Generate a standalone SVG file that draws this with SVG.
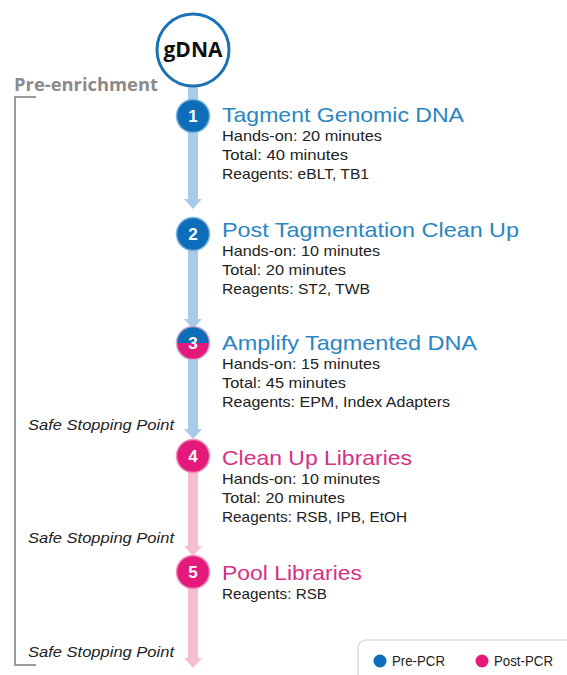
<svg xmlns="http://www.w3.org/2000/svg" width="567" height="675" viewBox="0 0 567 675">
<defs>
<marker id="ahB" viewBox="0 0 10 18" refX="0" refY="9" markerWidth="10" markerHeight="18" markerUnits="userSpaceOnUse" orient="auto"><path d="M0,0 L10,9 L0,18 z" fill="#a9cbea"/></marker>
<marker id="ahP" viewBox="0 0 10 18" refX="0" refY="9" markerWidth="10" markerHeight="18" markerUnits="userSpaceOnUse" orient="auto"><path d="M0,0 L10,9 L0,18 z" fill="#f5bcd2"/></marker>
</defs>
<style>
.shB{stroke:#a9cbea;stroke-width:10;fill:none}
.shP{stroke:#f5bcd2;stroke-width:10;fill:none}
.numB{fill:#0d6db8;stroke:#7fb3de;stroke-width:1.5}
.numP{fill:#e5197a;stroke:#f08fba;stroke-width:1.5}
.num{font-family:"Liberation Sans",Arial,sans-serif;font-weight:bold;font-size:17px;fill:#ffffff;text-anchor:middle}
.tB{font-family:"Liberation Sans",Arial,sans-serif;font-size:21px;fill:#2a86c2}
.tP{font-family:"Liberation Sans",Arial,sans-serif;font-size:21px;fill:#d62f86}
.sub{font-family:"Liberation Sans",Arial,sans-serif;font-size:15px;fill:#222222}
.safe{font-family:"Liberation Sans",Arial,sans-serif;font-style:italic;font-size:15px;fill:#222222}
.lg{font-family:"Liberation Sans",Arial,sans-serif;font-size:14.5px;fill:#222222}
</style>
<rect width="567" height="675" fill="#ffffff"/>
<g id="bracket">
<text x="14" y="91" font-family="Open Sans,Liberation Sans,sans-serif" font-weight="bold" font-size="17" fill="#8a8a8a" textLength="144" lengthAdjust="spacingAndGlyphs">Pre-enrichment</text>
<path d="M36,97 H15 V665 H36" fill="none" stroke="#9a9a9a" stroke-width="2"/>
</g>
<g id="connectors">
<line class="shB" x1="193" y1="86" x2="193" y2="100"/>
<line class="shB" x1="193" y1="132" x2="193" y2="199" marker-end="url(#ahB)"/>
<line class="shB" x1="193" y1="250" x2="193" y2="319" marker-end="url(#ahB)"/>
<line class="shB" x1="193" y1="359" x2="193" y2="429" marker-end="url(#ahB)"/>
<line class="shP" x1="193" y1="472" x2="193" y2="546" marker-end="url(#ahP)"/>
<line class="shP" x1="193" y1="588" x2="193" y2="658" marker-end="url(#ahP)"/>
</g>
<g id="gdna">
<circle cx="193" cy="50" r="36" fill="#ffffff" stroke="#1a72b6" stroke-width="3"/>
<text x="193" y="57" text-anchor="middle" font-family="Open Sans,Liberation Sans,sans-serif" font-weight="bold" font-size="21" fill="#111111">gDNA</text>
</g>
<g id="step1">
<circle class="numB" cx="193" cy="116" r="16.5"/>
<text class="num" x="193" y="122">1</text>
<text class="tB" x="222" y="122" textLength="242" lengthAdjust="spacingAndGlyphs">Tagment Genomic DNA</text>
<text class="sub" x="222" y="141" textLength="160" lengthAdjust="spacingAndGlyphs">Hands-on: 20 minutes</text>
<text class="sub" x="222" y="160" textLength="126" lengthAdjust="spacingAndGlyphs">Total: 40 minutes</text>
<text class="sub" x="222" y="179" textLength="147" lengthAdjust="spacingAndGlyphs">Reagents: eBLT, TB1</text>
</g>
<g id="step2">
<circle class="numB" cx="193" cy="234" r="16.5"/>
<text class="num" x="193" y="240">2</text>
<text class="tB" x="222" y="237" textLength="297" lengthAdjust="spacingAndGlyphs">Post Tagmentation Clean Up</text>
<text class="sub" x="222" y="256" textLength="158" lengthAdjust="spacingAndGlyphs">Hands-on: 10 minutes</text>
<text class="sub" x="222" y="275" textLength="124" lengthAdjust="spacingAndGlyphs">Total: 20 minutes</text>
<text class="sub" x="222" y="294" textLength="148" lengthAdjust="spacingAndGlyphs">Reagents: ST2, TWB</text>
</g>
<g id="step3">
<path d="M176.5,343 A16.5,16.5 0 0 1 209.5,343 Z" fill="#0d6db8"/>
<path d="M176.5,343 A16.5,16.5 0 0 0 209.5,343 Z" fill="#e5197a"/>
<circle cx="193" cy="343" r="16.5" fill="none" stroke="#c9a8d4" stroke-width="1.5"/>
<text class="num" x="193" y="349">3</text>
<text class="tB" x="222" y="350" textLength="255" lengthAdjust="spacingAndGlyphs">Amplify Tagmented DNA</text>
<text class="sub" x="222" y="369" textLength="158" lengthAdjust="spacingAndGlyphs">Hands-on: 15 minutes</text>
<text class="sub" x="222" y="388" textLength="124" lengthAdjust="spacingAndGlyphs">Total: 45 minutes</text>
<text class="sub" x="222" y="407" textLength="228" lengthAdjust="spacingAndGlyphs">Reagents: EPM, Index Adapters</text>
</g>
<text class="safe" x="28" y="430" textLength="146" lengthAdjust="spacingAndGlyphs">Safe Stopping Point</text>
<g id="step4">
<circle class="numP" cx="193" cy="456" r="16.5"/>
<text class="num" x="193" y="462">4</text>
<text class="tP" x="222" y="465" textLength="190" lengthAdjust="spacingAndGlyphs">Clean Up Libraries</text>
<text class="sub" x="222" y="484" textLength="158" lengthAdjust="spacingAndGlyphs">Hands-on: 10 minutes</text>
<text class="sub" x="222" y="503" textLength="123" lengthAdjust="spacingAndGlyphs">Total: 20 minutes</text>
<text class="sub" x="222" y="522" textLength="185" lengthAdjust="spacingAndGlyphs">Reagents: RSB, IPB, EtOH</text>
</g>
<text class="safe" x="28" y="543" textLength="146" lengthAdjust="spacingAndGlyphs">Safe Stopping Point</text>
<g id="step5">
<circle class="numP" cx="193" cy="572" r="16.5"/>
<text class="num" x="193" y="578">5</text>
<text class="tP" x="222" y="580" textLength="140" lengthAdjust="spacingAndGlyphs">Pool Libraries</text>
<text class="sub" x="222" y="599" textLength="105" lengthAdjust="spacingAndGlyphs">Reagents: RSB</text>
</g>
<text class="safe" x="28" y="657" textLength="146" lengthAdjust="spacingAndGlyphs">Safe Stopping Point</text>
<g id="legend">
<rect x="358" y="640" width="230" height="60" rx="8" fill="#ffffff" stroke="#dcdcdc" stroke-width="1.5"/>
<circle cx="380" cy="661" r="6.5" fill="#0d6db8"/>
<text class="lg" x="392" y="666" textLength="53" lengthAdjust="spacingAndGlyphs">Pre-PCR</text>
<circle cx="482" cy="661" r="6.5" fill="#e5197a"/>
<text class="lg" x="494" y="666" textLength="59" lengthAdjust="spacingAndGlyphs">Post-PCR</text>
</g>
</svg>
